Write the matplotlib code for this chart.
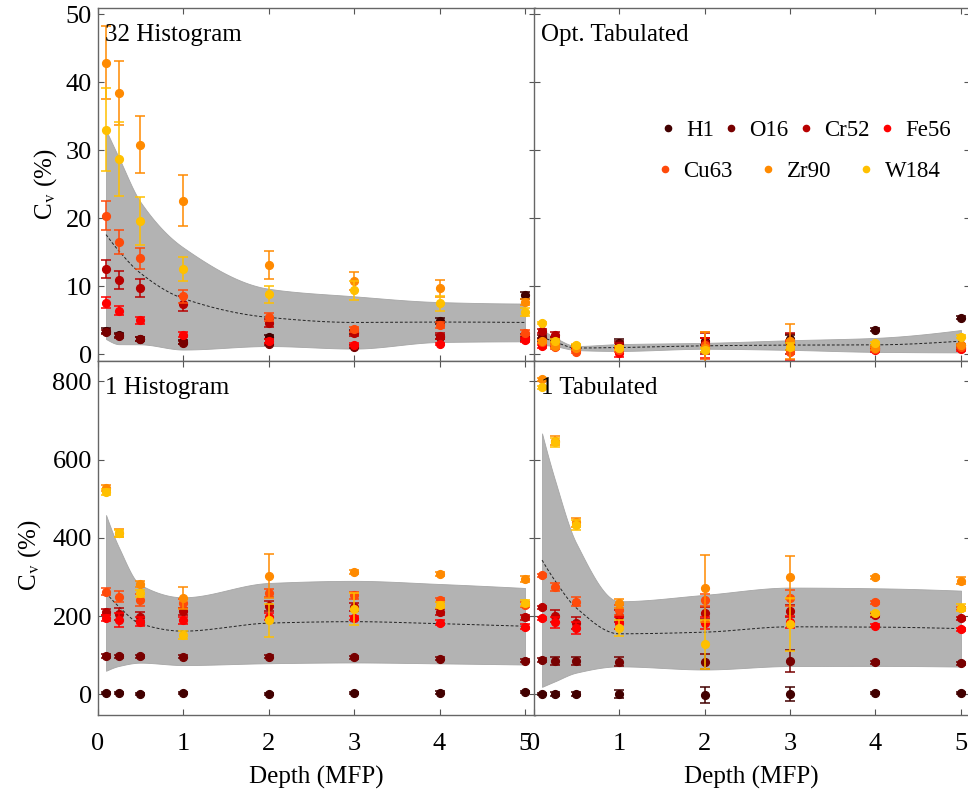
import numpy as np
import matplotlib
matplotlib.use("Agg")
import matplotlib.pyplot as plt

plt.rcParams["font.family"] = ["Liberation Serif", "DejaVu Serif"]
plt.rcParams["mathtext.fontset"] = "stix"

# Depths (mean free paths) and nuclides
depth = [0.1, 0.25, 0.5, 1, 2, 3, 4, 5]
nuclides = ["H1", "O16", "Cr52", "Fe56", "Cu63", "Zr90", "W184"]
colors = ["#420000", "#780000", "#b80000", "#ff0000", "#ff4a0a", "#ff8a00", "#ffc000"]

# Coefficient of variation (%), rows follow `nuclides`
cv_32hist = [
    [3.5, 2.8, 2.3, 1.8, 2.5, 3.3, 4.9, 8.7],
    [3.3, 2.7, 2.2, 1.7, 1.5, 1.1, 2.6, 2.3],
    [12.5, 10.9, 9.7, 7.4, 4.6, 3.1, 2.7, 2.6],
    [7.6, 6.4, 5.0, 2.9, 2.0, 1.4, 1.5, 2.1],
    [20.4, 16.5, 14.1, 8.5, 5.5, 3.7, 4.3, 3.2],
    [42.9, 38.4, 30.8, 22.6, 13.1, 10.8, 9.7, 7.7],
    [33.0, 28.7, 19.6, 12.6, 8.8, 9.4, 7.5, 6.2],
]
err_32hist = [
    [0.3, 0.3, 0.3, 0.3, 0.3, 0.3, 0.4, 0.5],
    [0.3, 0.3, 0.3, 0.2, 0.2, 0.2, 0.3, 0.3],
    [1.35, 1.3, 1.3, 1.1, 0.6, 0.4, 0.4, 0.4],
    [0.8, 0.65, 0.55, 0.35, 0.3, 0.2, 0.2, 0.3],
    [2.1, 1.8, 1.6, 0.9, 0.6, 0.35, 0.4, 0.4],
    [5.4, 4.7, 4.2, 3.8, 2.05, 1.35, 1.25, 0.5],
    [6.1, 5.4, 3.6, 1.75, 1.2, 1.35, 1.1, 0.6],
]

cv_opt = [
    [2.2, 2.0, 1.0, 1.7, 1.9, 2.2, 3.6, 5.4],
    [2.6, 2.2, 1.1, 1.4, 1.4, 1.8, 1.2, 1.3],
    [3.4, 2.9, 1.0, 1.2, 1.6, 1.6, 1.0, 1.0],
    [1.2, 1.4, 0.7, 0.2, 0.9, 0.6, 0.6, 0.75],
    [1.85, 1.1, 0.4, 0.6, 1.3, 0.3, 0.8, 1.1],
    [1.9, 1.2, 0.9, 0.9, 1.0, 1.9, 0.9, 1.35],
    [4.6, 2.0, 1.35, 0.97, 0.63, 1.1, 1.6, 2.6],
]
err_opt = [
    [0.2, 0.2, 0.2, 0.5, 0.5, 0.6, 0.2, 0.2],
    [0.3, 0.3, 0.2, 0.5, 1.0, 1.2, 0.2, 0.2],
    [0.3, 0.4, 0.2, 0.4, 1.6, 1.5, 0.2, 0.2],
    [0.2, 0.3, 0.2, 0.6, 1.5, 1.4, 0.2, 0.2],
    [0.2, 0.3, 0.2, 0.3, 2.0, 1.8, 0.2, 0.2],
    [0.2, 0.3, 0.2, 0.3, 2.3, 2.6, 0.2, 0.2],
    [0.2, 0.2, 0.2, 0.3, 0.3, 0.5, 0.2, 0.2],
]

cv_1hist = [
    [3, 3, 1, 3, 1, 3, 5, 7],
    [98, 98, 98, 97, 97, 95, 91, 86],
    [211, 205, 199, 212, 226, 224, 210, 197],
    [195, 190, 186, 189, 199, 195, 183, 173],
    [263, 250, 241, 233, 260, 253, 241, 229],
    [528, 412, 282, 246, 303, 314, 307, 295],
    [518, 412, 258, 152, 190, 218, 229, 233],
]
err_1hist = [
    [3, 3, 3, 3, 3, 3, 3, 3],
    [5, 4, 4, 4, 4, 4, 4, 4],
    [8, 15, 12, 10, 12, 10, 8, 6],
    [8, 18, 12, 8, 8, 6, 6, 6],
    [8, 15, 15, 12, 10, 8, 6, 6],
    [8, 10, 8, 28, 56, 5, 5, 8],
    [8, 9, 10, 10, 42, 41, 8, 8],
]

cv_1tab = [
    [1, 1, 1, 1, -1, 1, 3, 3],
    [88, 86, 86, 84, 84, 86, 82, 80],
    [223, 201, 182, 200, 209, 214, 203, 195],
    [195, 184, 169, 182, 182, 185, 176, 167],
    [305, 274, 237, 216, 241, 246, 235, 220],
    [805, 648, 440, 233, 271, 299, 299, 291],
    [785, 644, 433, 169, 128, 179, 207, 222],
]
err_1tab = [
    [3, 6, 6, 10, 21, 18, 3, 3],
    [4, 10, 10, 12, 20, 28, 4, 4],
    [4, 15, 15, 15, 15, 15, 4, 4],
    [4, 15, 15, 15, 15, 15, 4, 4],
    [4, 10, 12, 12, 15, 20, 4, 4],
    [4, 12, 12, 12, 85, 55, 4, 8],
    [4, 12, 12, 20, 63, 68, 4, 8],
]

panel_titles = ["32 Histogram", "Opt. Tabulated", "1 Histogram", "1 Tabulated"]


def pchip(x, y, xs):
    """Shape-preserving piecewise cubic Hermite interpolation."""
    x = np.asarray(x, float)
    y = np.asarray(y, float)
    h = np.diff(x)
    d = np.diff(y) / h
    n = len(x)
    m = np.zeros(n)
    for k in range(1, n - 1):
        if d[k - 1] * d[k] > 0:
            w1 = 2 * h[k] + h[k - 1]
            w2 = h[k] + 2 * h[k - 1]
            m[k] = (w1 + w2) / (w1 / d[k - 1] + w2 / d[k])

    def end(h0, h1, d0, d1):
        s = ((2 * h0 + h1) * d0 - h0 * d1) / (h0 + h1)
        if np.sign(s) != np.sign(d0):
            s = 0.0
        elif np.sign(d0) != np.sign(d1) and abs(s) > abs(3 * d0):
            s = 3 * d0
        return s

    m[0] = end(h[0], h[1], d[0], d[1])
    m[-1] = end(h[-1], h[-2], d[-1], d[-2])
    idx = np.clip(np.searchsorted(x, xs) - 1, 0, n - 2)
    t = (xs - x[idx]) / h[idx]
    h00 = 2 * t**3 - 3 * t**2 + 1
    h10 = t**3 - 2 * t**2 + t
    h01 = -2 * t**3 + 3 * t**2
    h11 = t**3 - t**2
    return (h00 * y[idx] + h10 * h[idx] * m[idx]
            + h01 * y[idx + 1] + h11 * h[idx] * m[idx + 1])


W, H = 968, 794
fig = plt.figure(figsize=(W / 100, H / 100), dpi=100)

xl_left, xr_left = 97.5, 534.5
xl_right, xr_right = 533.5, 970.0
yt_top, yb_top = 8.3, 361.0
yt_bot, yb_bot = 361.0, 715.0
px_per_x = 85.5


def add_axes(x0, x1, y0, y1):
    return fig.add_axes([x0 / W, 1 - y1 / H, (x1 - x0) / W, (y1 - y0) / H])


ax_tl = add_axes(xl_left, xr_left, yt_top, yb_top)
ax_tr = add_axes(xl_right, xr_right, yt_top, yb_top)
ax_bl = add_axes(xl_left, xr_left, yt_bot, yb_bot)
ax_br = add_axes(xl_right, xr_right, yt_bot, yb_bot)
axes = [ax_tl, ax_tr, ax_bl, ax_br]
data = [(cv_32hist, err_32hist), (cv_opt, err_opt), (cv_1hist, err_1hist), (cv_1tab, err_1tab)]

xs = np.linspace(depth[0], depth[-1], 500)
handles = []
for k, (ax, (cv, err), title) in enumerate(zip(axes, data, panel_titles)):
    arr = np.array(cv, float)
    mean = arr.mean(axis=0)
    sd = arr.std(axis=0, ddof=1)
    ax.fill_between(xs, pchip(depth, mean - sd, xs), pchip(depth, mean + sd, xs),
                    facecolor="#b3b3b3", edgecolor="#a6a6a6", linewidth=0.6, zorder=1)
    ax.plot(xs, pchip(depth, mean, xs), color="#222222", lw=0.7,
            ls=(0, (3, 2)), zorder=2)
    for i, (name, c) in enumerate(zip(nuclides, colors)):
        cont = ax.errorbar(depth, cv[i], yerr=err[i], fmt="o", color=c, ms=5.6,
                           ecolor=c, elinewidth=1.1, capsize=3.6, capthick=1.1,
                           zorder=3 + i, label=name)
        if k == 1:
            handles.append(cont[0])

    x0, x1 = (xl_left, xr_left) if k % 2 == 0 else (xl_right, xr_right)
    ax.set_xlim(0, (x1 - x0) / px_per_x)
    if k < 2:
        ax.set_ylim(-0.985, 50.88)
        ax.set_yticks([0, 10, 20, 30, 40, 50])
    else:
        ax.set_ylim(-52.4, 851.8)
        ax.set_yticks([0, 200, 400, 600, 800])
    ax.set_xticks([0, 1, 2, 3, 4, 5])
    ax.tick_params(direction="in", length=4.5, width=0.8, color="#555555",
                   top=True, right=True, labelsize=19, pad=4)
    ax.tick_params(axis="x", pad=13)
    for sp in ax.spines.values():
        sp.set_color("#666666")
        sp.set_linewidth(1.0)
    if k % 2 == 1:
        ax.tick_params(labelleft=False)
    if k < 2:
        ax.tick_params(labelbottom=False)
    else:
        ax.set_xlabel("Depth (MFP)", fontsize=18, labelpad=8)
    if k % 2 == 0:
        ax.set_ylabel("C$_\\mathrm{v}$ (%)", fontsize=18)
        if k == 0:
            ax.yaxis.set_label_coords(-0.088, 0.5)
        else:
            ax.yaxis.set_label_coords(-0.124, 0.45)
    ax.text(0.017, 0.907, title, transform=ax.transAxes, fontsize=18,
            ha="left", va="baseline", zorder=20)

# Legend: four nuclides on the first row, three on the second
leg_kw = dict(frameon=False, fontsize=16.5, handlelength=0.6, handletextpad=0.5,
              borderpad=0, borderaxespad=0, markerscale=0.8, loc="center left",
              bbox_transform=fig.transFigure)
leg1 = ax_tr.legend(handles[:4], nuclides[:4], ncol=4, columnspacing=0.45,
                    bbox_to_anchor=(661 / W, 1 - 130 / H), **leg_kw)
ax_tr.add_artist(leg1)
ax_tr.legend(handles[4:], nuclides[4:], ncol=3, columnspacing=1.25,
             bbox_to_anchor=(658 / W, 1 - 171 / H), **leg_kw)

fig.savefig("out.png", dpi=100)
